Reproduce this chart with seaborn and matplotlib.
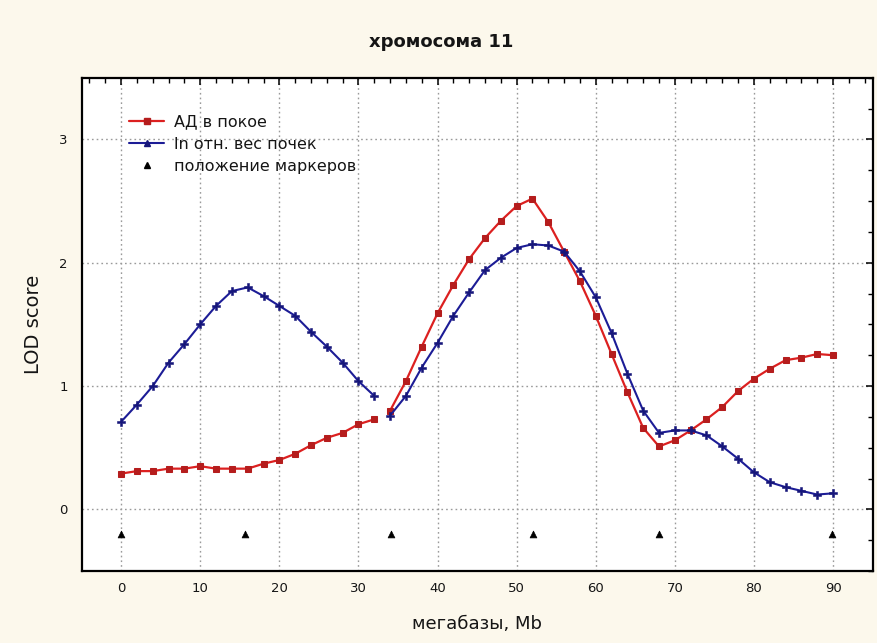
import numpy as np
import pandas as pd
import seaborn as sns
import matplotlib
matplotlib.use("Agg")
import matplotlib.pyplot as plt
from matplotlib.lines import Line2D
from matplotlib.ticker import MultipleLocator

# positions along chromosome 11, Mb (two scanned intervals)
mb_left = [0, 2, 4, 6, 8, 10, 12, 14, 16, 18, 20, 22, 24, 26, 28, 30, 32]
mb_right = [34, 36, 38, 40, 42, 44, 46, 48, 50, 52, 54, 56, 58, 60, 62, 64,
            66, 68, 70, 72, 74, 76, 78, 80, 82, 84, 86, 88, 90]

# LOD scores: resting blood pressure
bp_left = [0.29, 0.31, 0.31, 0.33, 0.33, 0.35, 0.33, 0.33, 0.33, 0.37, 0.40,
           0.45, 0.52, 0.58, 0.62, 0.69, 0.73]
bp_right = [0.80, 1.04, 1.32, 1.59, 1.82, 2.03, 2.20, 2.34, 2.46, 2.52, 2.33,
            2.09, 1.85, 1.57, 1.26, 0.95, 0.66, 0.51, 0.56, 0.64, 0.73, 0.83,
            0.96, 1.06, 1.14, 1.21, 1.23, 1.26, 1.25]

# LOD scores: ln relative kidney weight
kw_left = [0.71, 0.85, 1.00, 1.19, 1.34, 1.50, 1.65, 1.77, 1.80, 1.73, 1.65,
           1.57, 1.44, 1.32, 1.19, 1.04, 0.92]
kw_right = [0.76, 0.92, 1.15, 1.35, 1.57, 1.76, 1.94, 2.04, 2.12, 2.15, 2.14,
            2.09, 1.93, 1.72, 1.43, 1.10, 0.80, 0.62, 0.64, 0.64, 0.60, 0.51,
            0.41, 0.30, 0.22, 0.18, 0.15, 0.12, 0.13]

# genetic marker positions
marker_mb = [0, 15.7, 34.1, 52.1, 68.0, 89.9]
marker_lod = [-0.2, -0.2, -0.2, -0.2, -0.2, -0.2]

label_bp = "АД в покое"
label_kw = "ln отн. вес почек"
label_mk = "положение маркеров"

sns.set_theme(style="white")
plt.rcParams["font.family"] = ["DejaVu Sans"]

RED = "#dc2020"
RED_M = "#b51d1d"
BLUE = "#1c1c96"
BLUE_M = "#16167a"
INK = "#151515"

fig = plt.figure(figsize=(8.77, 6.43), dpi=100, facecolor="#fcf8ec")
ax = fig.add_axes([0.093, 0.112, 0.902, 0.767])
ax.set_facecolor("white")

segments = []
for xs, ys, name in [(mb_left, bp_left, "bp"), (mb_right, bp_right, "bp"),
                     (mb_left, kw_left, "kw"), (mb_right, kw_right, "kw")]:
    segments.append(pd.DataFrame({"mb": xs, "lod": ys, "trait": name}))

for seg in segments:
    if seg["trait"].iloc[0] == "bp":
        sns.lineplot(data=seg, x="mb", y="lod", ax=ax, color=RED, lw=1.6,
                     marker="s", markersize=5, markerfacecolor=RED_M,
                     markeredgecolor=RED_M, estimator=None, sort=False,
                     legend=False, zorder=3)
    else:
        sns.lineplot(data=seg, x="mb", y="lod", ax=ax, color=BLUE, lw=1.5,
                     marker="P", markersize=5.5, markerfacecolor=BLUE_M,
                     markeredgecolor=BLUE_M, markeredgewidth=0.4,
                     estimator=None, sort=False, legend=False, zorder=4)

sns.scatterplot(x=marker_mb, y=marker_lod, ax=ax, marker="^", s=24,
                color="black", edgecolor="black", linewidth=0.5, zorder=5,
                legend=False)

ax.set_xlim(-5, 95)
ax.set_ylim(-0.5, 3.5)
ax.xaxis.set_major_locator(MultipleLocator(10))
ax.xaxis.set_minor_locator(MultipleLocator(2))
ax.yaxis.set_major_locator(MultipleLocator(1))
ax.yaxis.set_minor_locator(MultipleLocator(0.25))
ax.tick_params(which="both", direction="in", top=True, right=True,
               color="black", labelcolor=INK, labelsize=9.5)
ax.tick_params(which="major", length=5, width=1.1)
ax.tick_params(which="minor", length=3.5, width=1.0)
ax.tick_params(axis="x", pad=8)
ax.tick_params(axis="y", pad=10)
for sp in ax.spines.values():
    sp.set_color("black")
    sp.set_linewidth(1.6)
ax.grid(True, which="major", color="#9a9a9a", linestyle=(0, (1.2, 2.2)),
        linewidth=1.0)

ax.set_xlabel("мегабазы, Mb", fontsize=13, color=INK, labelpad=14)
ax.set_ylabel("LOD score", fontsize=14, color=INK, labelpad=12)
fig.text(0.503, 0.934, "хромосома 11", ha="center", va="center",
         fontsize=13, fontweight="bold", color=INK)

handles = [
    Line2D([], [], color=RED, lw=1.6, marker="s", markersize=5,
           markerfacecolor=RED_M, markeredgecolor=RED_M),
    Line2D([], [], color=BLUE, lw=1.5, marker="^", markersize=5,
           markerfacecolor=BLUE_M, markeredgecolor=BLUE_M),
    Line2D([], [], color="black", lw=0, marker="^", markersize=4.5),
]
leg = ax.legend(handles, [label_bp, label_kw, label_mk], loc="upper left",
                bbox_to_anchor=(0.042, 0.955), frameon=False, fontsize=11.5,
                handlelength=2.2, handletextpad=0.6, labelspacing=0.45,
                labelcolor=INK)

fig.savefig("out.png", dpi=100, facecolor=fig.get_facecolor())
